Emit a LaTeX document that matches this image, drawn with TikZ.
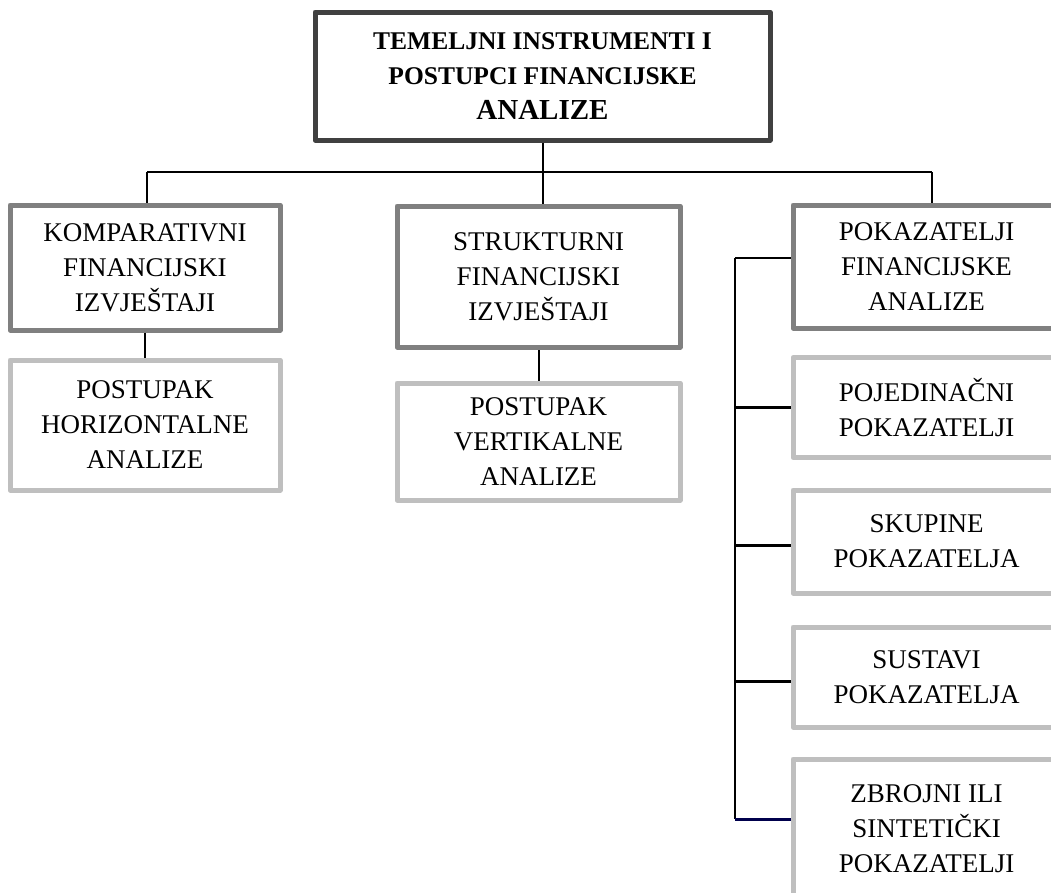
\documentclass[tikz,border=0pt]{standalone}
\usepackage{fontspec}
\setmainfont{Liberation Serif}
\begin{document}
\begin{tikzpicture}[x=1pt,y=-1pt,
  every node/.style={font=\fontsize{27}{35}\selectfont, align=center, inner sep=0pt},
  topbox/.style={draw=black!75, line width=5pt, rectangle, line join=round},
  midbox/.style={draw=black!50, line width=5pt, rectangle, line join=round},
  lowbox/.style={draw=black!25, line width=5pt, rectangle, line join=round},
  conn/.style={draw=black, line width=2pt},
  branch/.style={draw=black, line width=3pt}
]
\useasboundingbox (0,0) rectangle (1051,892);
\begin{scope}
\clip (0,0) rectangle (1051,892);
% top
\node[topbox, minimum width=455, minimum height=128] (top) at (542.5,76)
  {\fontsize{25.5}{35}\selectfont\bfseries TEMELJNI INSTRUMENTI I\\
   \fontsize{25.5}{35}\selectfont\bfseries POSTUPCI FINANCIJSKE\\
   \fontsize{29}{36}\selectfont\bfseries ANALIZE};
% level 2
\node[midbox, minimum width=270, minimum height=125] (komp) at (145,267.5)
  {KOMPARATIVNI\\FINANCIJSKI\\IZVJEŠTAJI};
\node[midbox, minimum width=283, minimum height=141] (strukt) at (538.5,276.5)
  {STRUKTURNI\\FINANCIJSKI\\IZVJEŠTAJI};
\node[midbox, minimum width=267, minimum height=123] (poka) at (926.5,266.5)
  {POKAZATELJI\\FINANCIJSKE\\ANALIZE};
% level 3
\node[lowbox, minimum width=270, minimum height=130] (horiz) at (145,425)
  {POSTUPAK\\HORIZONTALNE\\ANALIZE};
\node[lowbox, minimum width=283, minimum height=117] (vert) at (538.5,441.5)
  {POSTUPAK\\VERTIKALNE\\ANALIZE};
\node[lowbox, minimum width=267, minimum height=100] (pojed) at (926.5,407.5)
  {POJEDINAČNI\\POKAZATELJI};
\node[lowbox, minimum width=267, minimum height=103] (skup) at (926.5,541.5)
  {SKUPINE\\POKAZATELJA};
\node[lowbox, minimum width=267, minimum height=100] (sust) at (926.5,677)
  {SUSTAVI\\POKAZATELJA};
\node[lowbox, minimum width=267, minimum height=140] (zbroj) at (926.5,829)
  {ZBROJNI ILI\\SINTETIČKI\\POKAZATELJI};
\end{scope}
% connectors
\coordinate (j) at (543,172);
\coordinate (jl) at (147,172);
\coordinate (jr) at (932,172);
\draw[conn] (top.south -| j) -- (j);
\draw[conn] (jl) -- (jr);
\draw[conn] (jl) -- (jl |- komp.north);
\draw[conn] (j) -- (j |- strukt.north);
\draw[conn] (jr) -- (jr |- poka.north);
\draw[conn] (komp.south) -- (horiz.north);
\draw[conn] (vert.north) -- (vert.north |- strukt.south);
\coordinate (rv) at (735,258);
\coordinate (rb) at (735,819);
\draw[conn] (rv) -- (rv -| poka.west);
\draw[conn] (rv) -- (rb);
\draw[branch] (rv |- pojed.west) -- (pojed.west);
\draw[branch] (rv |- 0,545) -- (skup.west |- 0,545);
\draw[branch] (rv |- 0,681) -- (sust.west |- 0,681);
\draw[branch, draw=blue!30!black] (rb) -- (rb -| zbroj.west);
\end{tikzpicture}
\end{document}
